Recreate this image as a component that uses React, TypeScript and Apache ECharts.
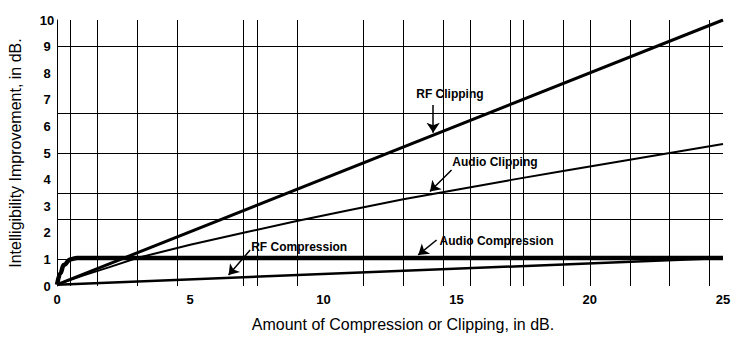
import React, { useEffect, useRef } from "react";
import * as echarts from "echarts";

// Axis ticks
const xMin = 0;
const xMax = 25;
const xInterval = 5;
const yMin = 0;
const yMax = 10;
const yInterval = 1;

// Irregular grid lines (data values)
const vGrid = [0.5, 1.5, 3, 4.5, 7, 7.5, 9, 11.5, 13, 14.5, 15.5, 17, 17.5, 19, 20, 21.5, 23, 24.5];
const hGrid = [1, 2.5, 3.5, 5, 6.5, 9];

// Curves
const rfClipX = [0, 25];
const rfClipY = [0.05, 10];

const audioClipX = [0, 1, 2, 3, 5, 7, 9, 11, 13, 15, 17, 19, 21, 23, 25];
const audioClipY = [0.05, 0.4, 0.72, 1.05, 1.55, 2.0, 2.44, 2.86, 3.26, 3.62, 3.98, 4.32, 4.66, 5.0, 5.34];

const flatCompX = [0, 0.13, 0.25, 0.5, 0.75, 25];
const flatCompY = [0.05, 0.48, 0.79, 1.0, 1.05, 1.05];

const slopeCompX = [0, 25];
const slopeCompY = [0.05, 1.05];

// Annotations
const noteText = ["RF Clipping", "Audio Clipping", "RF Compression", "Audio Compression"];
const noteX = [14.75, 16.44, 9.09, 16.5];
const noteY = [7.22, 4.66, 1.45, 1.69];
const arrowFromX = [14.12, 14.81, 7.25, 14.25];
const arrowFromY = [6.8, 4.36, 1.35, 1.73];
const arrowToX = [14.12, 14.0, 6.44, 13.56];
const arrowToY = [5.76, 3.55, 0.41, 1.17];

const xTitle = "Amount of Compression or Clipping, in dB.";
const yTitle = "Intelligibility Improvement, in dB.";

const FONT = "'Liberation Sans', Arial, sans-serif";

const zip = (xs: number[], ys: number[]) => xs.map((x, i) => [x, ys[i]]);

export default function App() {
  const ref = useRef<HTMLDivElement>(null);

  useEffect(() => {
    if (!ref.current) return;
    const chart = echarts.init(ref.current, null, { renderer: "svg" });

    const lineSeries = (name: string, data: number[][], width: number, smooth: number | boolean) => ({
      name,
      type: "line",
      data,
      showSymbol: false,
      symbol: "none",
      smooth,
      z: 5,
      lineStyle: { color: "#000", width, cap: "butt" },
      silent: true,
    });

    const option: any = {
      animation: false,
      backgroundColor: "#fff",
      grid: { left: 57, right: 15, top: 20, bottom: 53 },
      xAxis: {
        type: "value",
        min: xMin,
        max: xMax,
        interval: xInterval,
        axisLine: { show: false },
        axisTick: { show: false },
        splitLine: { show: false },
        axisLabel: {
          color: "#000",
          fontFamily: FONT,
          fontWeight: "bold",
          fontSize: 13,
          margin: 7,
        },
      },
      yAxis: {
        type: "value",
        min: yMin,
        max: yMax,
        interval: yInterval,
        axisLine: { show: true, lineStyle: { color: "#000", width: 1 } },
        axisTick: { show: false },
        splitLine: { show: false },
        axisLabel: {
          color: "#000",
          fontFamily: FONT,
          fontWeight: "bold",
          fontSize: 13,
          align: "center",
          margin: 10,
        },
      },
      series: [
        {
          name: "grid",
          type: "line",
          data: [],
          z: 1,
          silent: true,
          markLine: {
            silent: true,
            symbol: ["none", "none"],
            label: { show: false },
            lineStyle: { color: "#000", width: 1, type: "solid" },
            data: [
              ...vGrid.map((v) => ({ xAxis: v })),
              ...hGrid.map((v) => ({ yAxis: v })),
            ],
          },
        },
        lineSeries("Audio Compression", zip(slopeCompX, slopeCompY), 2.5, false),
        lineSeries("Audio Clipping", zip(audioClipX, audioClipY), 2, false),
        lineSeries("RF Clipping", zip(rfClipX, rfClipY), 3, false),
        { ...lineSeries("RF Compression", zip(flatCompX, flatCompY), 4.5, 0.4), smoothMonotone: "x" },
        {
          name: "notes",
          type: "line",
          data: [],
          z: 6,
          silent: true,
          markLine: {
            silent: true,
            symbol: ["none", "arrow"],
            symbolSize: 10,
            label: { show: false },
            itemStyle: { color: "#000" },
            lineStyle: { color: "#000", width: 1.5, type: "solid" },
            data: noteText.map((_, i) => [
              { coord: [arrowFromX[i], arrowFromY[i]] },
              { coord: [arrowToX[i], arrowToY[i]] },
            ]),
          },
          markPoint: {
            silent: true,
            symbol: "rect",
            symbolSize: 1,
            itemStyle: { color: "rgba(0,0,0,0)" },
            label: {
              show: true,
              position: "inside",
              color: "#000",
              fontFamily: FONT,
              fontWeight: "bold",
              fontSize: 12,
              formatter: (p: any) => p.name,
            },
            data: noteText.map((t, i) => ({ name: t, coord: [noteX[i], noteY[i]] })),
          },
        },
      ],
      graphic: [
        {
          type: "text",
          x: 403,
          y: 324,
          style: {
            text: xTitle,
            fill: "#000",
            font: `16px ${FONT}`,
            align: "center",
            verticalAlign: "middle",
          },
        },
        {
          type: "text",
          x: 15,
          y: 153,
          rotation: Math.PI / 2,
          style: {
            text: yTitle,
            fill: "#000",
            font: `16px ${FONT}`,
            align: "center",
            verticalAlign: "middle",
          },
        },
      ],
    };

    chart.setOption(option);
    return () => chart.dispose();
  }, []);

  return (
    <div
      ref={ref}
      style={{ position: "fixed", left: 0, top: 0, width: 738, height: 339, background: "#fff" }}
    />
  );
}
